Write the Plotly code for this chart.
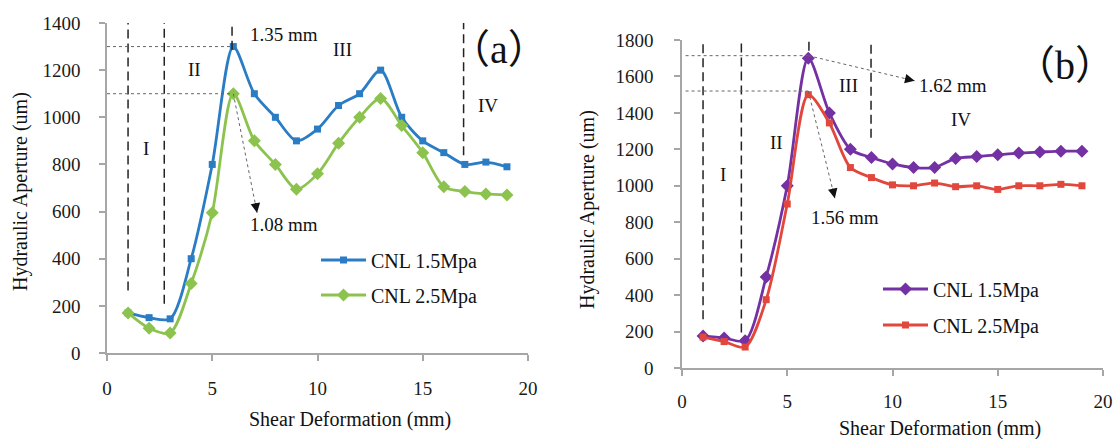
import plotly.graph_objects as go

# ---------------- data ----------------
shear = list(range(1, 20))

# panel (a)
a_cnl15 = [170, 150, 145, 400, 800, 1300, 1100, 1000, 900, 950, 1050, 1100, 1200, 1000, 900, 850, 800, 810, 790]
a_cnl25 = [170, 105, 85, 295, 595, 1100, 900, 800, 695, 760, 890, 1000, 1080, 965, 850, 705, 685, 675, 670]

# panel (b)
b_cnl15 = [175, 165, 150, 500, 1000, 1700, 1400, 1200, 1155, 1120, 1100, 1100, 1150, 1160, 1170, 1180, 1185, 1190, 1190]
b_cnl25 = [170, 145, 115, 375, 900, 1500, 1345, 1100, 1045, 1005, 1000, 1015, 995, 1000, 980, 1000, 1000, 1008, 1000]

series_names = ["CNL 1.5Mpa", "CNL 2.5Mpa"]
x_ticks = [0, 5, 10, 15, 20]
a_yticks = list(range(0, 1401, 200))
b_yticks = list(range(0, 1801, 200))

# ---------------- styling ----------------
W, H = 1116, 439
SERIF = "Liberation Serif"
C_BLUE = "#2a7cc4"
C_GREEN = "#8cc34e"
C_PURPLE = "#7431a3"
C_RED = "#e2473d"
AX_COL = "#a6a6a6"

fig = go.Figure()

def add_series(x, y, name, color, symbol, size, xa, ya, legend):
    fig.add_trace(go.Scatter(
        x=x, y=y, name=name, mode="lines+markers",
        line=dict(color=color, width=2.8, shape="spline", smoothing=0.8),
        marker=dict(color=color, symbol=symbol, size=size),
        xaxis=xa, yaxis=ya, legend=legend, cliponaxis=False, showlegend=True,
    ))

add_series(shear, a_cnl15, series_names[0], C_BLUE, "square", 7, "x", "y", "legend")
add_series(shear, a_cnl25, series_names[1], C_GREEN, "diamond", 10, "x", "y", "legend2")
add_series(shear, b_cnl15, series_names[0], C_PURPLE, "diamond", 10, "x2", "y2", "legend3")
add_series(shear, b_cnl25, series_names[1], C_RED, "square", 7, "x2", "y2", "legend4")

def axis(domain, rng, tickvals, anchor, standoff):
    return dict(
        domain=domain, range=rng, tickvals=tickvals, anchor=anchor, automargin=False,
        showgrid=False, zeroline=False, showline=True, linecolor=AX_COL, linewidth=1.6,
        ticks="outside", ticklen=6, tickcolor=AX_COL, tickwidth=1.6,
        tickfont=dict(family=SERIF, size=19, color="#1a1a1a"),
        ticklabelstandoff=standoff, fixedrange=True,
    )

legend_common = dict(font=dict(family=SERIF, size=20, color="#111"), bgcolor="rgba(0,0,0,0)",
                     itemwidth=45, xanchor="left", yanchor="middle")

fig.update_layout(
    width=W, height=H, margin=dict(l=0, r=0, t=0, b=0, autoexpand=False),
    paper_bgcolor="white", plot_bgcolor="white", showlegend=True,
    xaxis=axis([107 / W, 528 / W], [0, 20], x_ticks, "y", 11),
    yaxis=axis([1 - 353 / H, 1 - 23 / H], [0, 1400], a_yticks, "x", 15),
    xaxis2=axis([682 / W, 1103 / W], [0, 20], x_ticks, "y2", 9),
    yaxis2=axis([1 - 368 / H, 1 - 40 / H], [0, 1800], b_yticks, "x2", 17),
    legend=dict(x=316 / W, y=1 - 260 / H, **legend_common),
    legend2=dict(x=316 / W, y=1 - 295 / H, **legend_common),
    legend3=dict(x=878 / W, y=1 - 289 / H, **legend_common),
    legend4=dict(x=878 / W, y=1 - 325 / H, **legend_common),
)

# ---------------- guide lines ----------------
def vline(xa, ya, x, y0, y1):
    fig.add_shape(type="line", xref=xa, yref=ya, x0=x, x1=x, y0=y0, y1=y1,
                  line=dict(color="#222", width=1.5, dash="9px,5px"))

def dotted(xa, ya, x0, y0, x1, y1):
    fig.add_shape(type="line", xref=xa, yref=ya, x0=x0, x1=x1, y0=y0, y1=y1,
                  line=dict(color="#666", width=1, dash="dot"))

def head(xa, ya, x, y, ax, ay):
    fig.add_annotation(xref=xa, yref=ya, x=x, y=y, ax=ax, ay=ay, text="", showarrow=True,
                       arrowhead=2, arrowsize=1.6, arrowwidth=1.2, arrowcolor="#111")

def label(xa, ya, x, y, text, size=19, family=SERIF):
    fig.add_annotation(xref=xa, yref=ya, x=x, y=y, text=text, showarrow=False,
                       font=dict(family=family, size=size, color="#111"),
                       xanchor="center", yanchor="middle")

PANEL_FONT = "Liberation Serif, Noto Sans CJK SC"

# panel (a)
vline("x", "y", 1.0, 265, 1403)
vline("x", "y", 2.72, 209, 1403)
vline("x", "y", 5.94, 1286, 1400)
vline("x", "y", 16.94, 839, 1436)
dotted("x", "y", 0, 1300, 5.94, 1300)
dotted("x", "y", 0, 1100, 5.94, 1100)
dotted("x", "y", 6.0, 1100, 7.13, 595)
head("x", "y", 7.13, 595, -2, -11)
label("x", "y", 8.42, 1350, "1.35 mm")
label("x", "y", 8.4, 544, "1.08 mm")
label("x", "y", 1.83, 867, "I")
label("x", "y", 4.16, 1201, "II")
label("x", "y", 11.2, 1286, "III")
label("x", "y", 18.08, 1052, "IV")
label("x", "y", 18.6, 1286, "（a）", size=40, family=PANEL_FONT)

# panel (b)
vline("x2", "y2", 1.0, 268, 1824)
vline("x2", "y2", 2.82, 195, 1824)
vline("x2", "y2", 6.03, 1741, 1824)
vline("x2", "y2", 8.98, 1263, 1824)
dotted("x2", "y2", 0.17, 1714, 6.0, 1714)
dotted("x2", "y2", 0.17, 1520, 6.0, 1520)
dotted("x2", "y2", 6.0, 1714, 11.05, 1576)
dotted("x2", "y2", 6.0, 1520, 7.26, 932)
head("x2", "y2", 11.05, 1576, -11, -2.5)
head("x2", "y2", 7.26, 932, -2.5, -11)
label("x2", "y2", 12.86, 1548, "1.62 mm")
label("x2", "y2", 7.76, 825, "1.56 mm")
label("x2", "y2", 1.94, 1064, "I")
label("x2", "y2", 4.47, 1235, "II")
label("x2", "y2", 7.93, 1548, "III")
label("x2", "y2", 13.25, 1364, "IV")
label("x2", "y2", 18.2, 1658, "（b）", size=40, family=PANEL_FONT)

# ---------------- axis titles ----------------
def title(x, y, text, angle=0):
    fig.add_annotation(xref="paper", yref="paper", x=x / W, y=1 - y / H, text=text, showarrow=False,
                       textangle=angle, xanchor="center", yanchor="middle",
                       font=dict(family=SERIF, size=20, color="#111"))

title(350, 419, "Shear Deformation (mm)")
title(940, 428, "Shear Deformation (mm)")
title(20, 192, "Hydraulic Aperture (um)", -90)
title(588, 210, "Hydraulic Aperture (um)", -90)

fig.write_html("out.html")
